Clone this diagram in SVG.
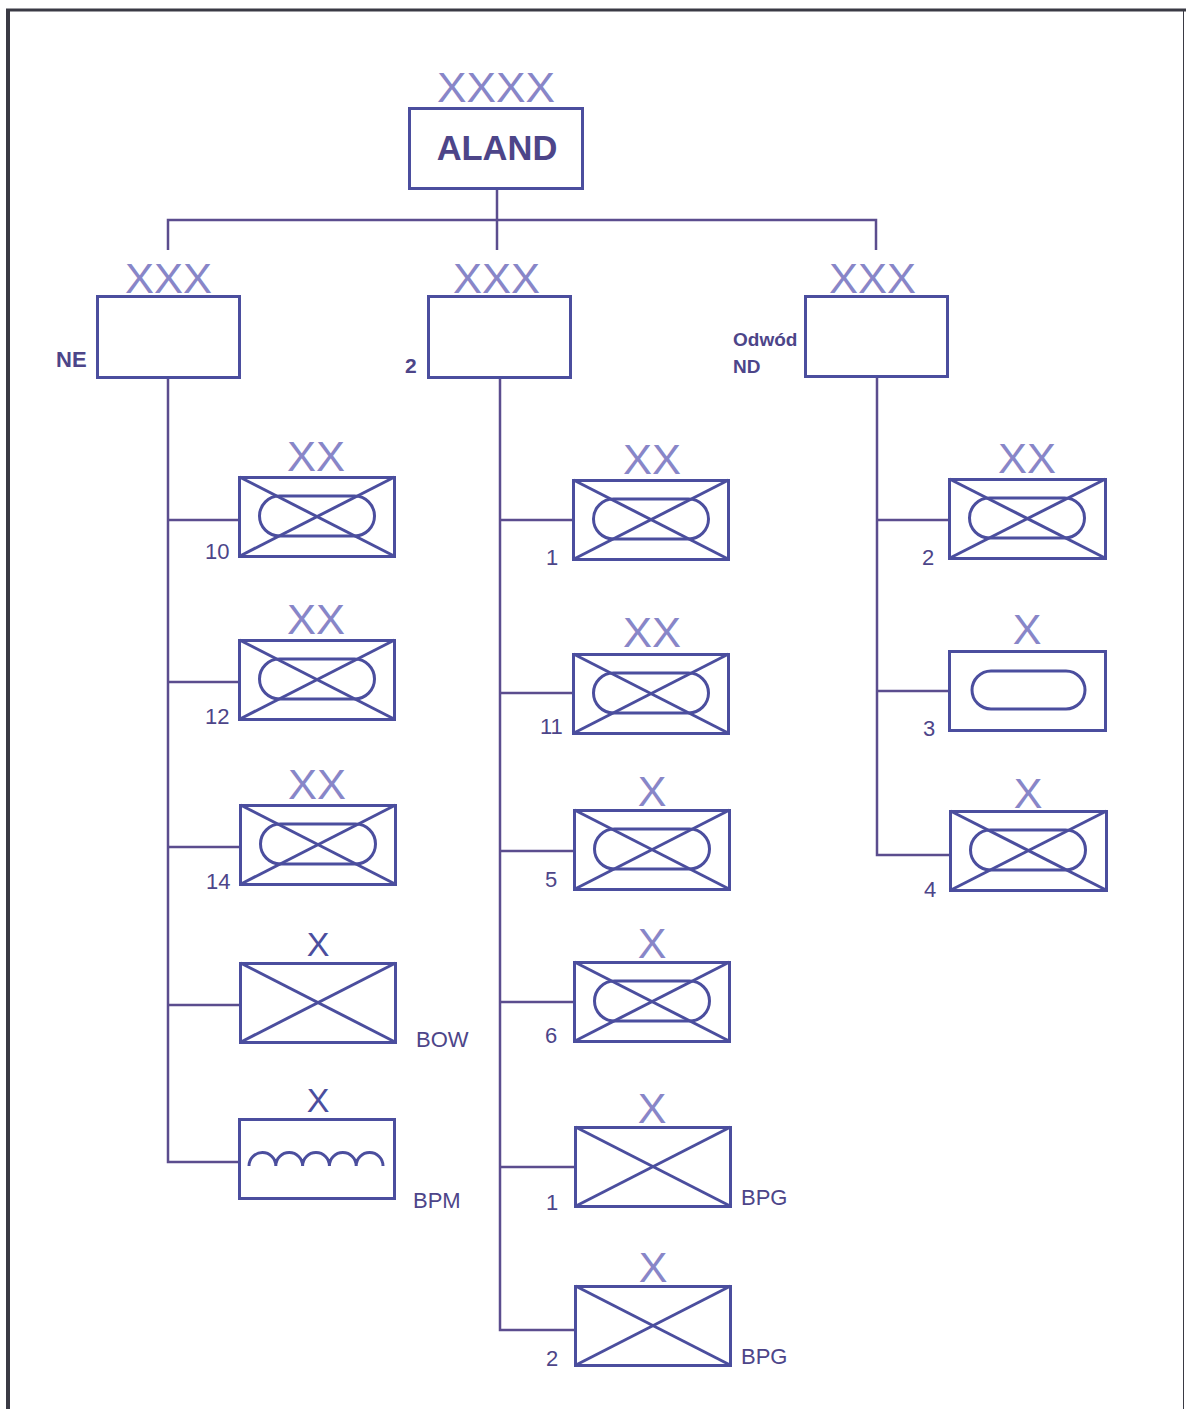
<svg xmlns="http://www.w3.org/2000/svg" width="1186" height="1409" viewBox="0 0 1186 1409">
<defs>
<style>
.frame{stroke:#3a3a44;fill:none}
.box{fill:#fff;stroke:#4b4e9e;stroke-width:3}
.sym{fill:none;stroke:#4b4e9e;stroke-width:3}
.con{fill:none;stroke:#5b4d8e;stroke-width:2.5}
.ech{font-family:"Liberation Sans",Arial,sans-serif;font-size:43px;fill:#8886c8;text-anchor:middle}
.echd{font-family:"Liberation Sans",Arial,sans-serif;font-size:34px;fill:#4b4e9e;text-anchor:middle}
.lbl{font-family:"Liberation Sans",Arial,sans-serif;font-size:22px;fill:#4d4589}
.bold{font-family:"Liberation Sans",Arial,sans-serif;font-weight:bold;fill:#4d4589}
</style>
<g id="oval">
<rect x="20" y="21" width="115" height="40" rx="20" class="sym"/>
</g>
<g id="cross">
<line x1="0" y1="0" x2="156" y2="80" class="sym"/>
<line x1="0" y1="80" x2="156" y2="0" class="sym"/>
</g>
</defs>
<rect width="1186" height="1409" fill="#fff"/>
<g id="frame">
<line x1="8" y1="10" x2="8" y2="1409" class="frame" stroke-width="4"/>
<line x1="6" y1="10" x2="1186" y2="10" class="frame" stroke-width="3"/>
<line x1="1183.5" y1="10" x2="1183.5" y2="1409" class="frame" stroke-width="1" stroke="#777"/>
</g>
<g id="connectors">
<polyline points="497,189 497,250" class="con"/>
<polyline points="168,250 168,220 876,220 876,250" class="con"/>
<polyline points="168,378 168,1162 239,1162" class="con"/>
<line x1="168" y1="520" x2="239" y2="520" class="con"/>
<line x1="168" y1="682" x2="239" y2="682" class="con"/>
<line x1="168" y1="847" x2="239" y2="847" class="con"/>
<line x1="168" y1="1005" x2="239" y2="1005" class="con"/>
<polyline points="500,378 500,1330 575,1330" class="con"/>
<line x1="500" y1="520" x2="573" y2="520" class="con"/>
<line x1="500" y1="693" x2="573" y2="693" class="con"/>
<line x1="500" y1="851" x2="574" y2="851" class="con"/>
<line x1="500" y1="1002" x2="574" y2="1002" class="con"/>
<line x1="500" y1="1167" x2="575" y2="1167" class="con"/>
<polyline points="877,377 877,855 950,855" class="con"/>
<line x1="877" y1="520" x2="949" y2="520" class="con"/>
<line x1="877" y1="691" x2="949" y2="691" class="con"/>
</g>
<g id="aland">
<text x="496" y="102" class="ech" textLength="118" lengthAdjust="spacingAndGlyphs">XXXX</text>
<rect x="409.5" y="108.5" width="173" height="80" class="box"/>
<text x="497" y="160" class="bold" font-size="34.5" text-anchor="middle">ALAND</text>
</g>
<g id="ne">
<text x="168.5" y="293" class="ech" textLength="87" lengthAdjust="spacingAndGlyphs">XXX</text>
<rect x="97.5" y="296.5" width="142" height="81" class="box"/>
<text x="56" y="367" class="bold" font-size="22">NE</text>
</g>
<g id="n2">
<text x="496.5" y="293" class="ech" textLength="87" lengthAdjust="spacingAndGlyphs">XXX</text>
<rect x="428.5" y="296.5" width="142" height="81" class="box"/>
<text x="405" y="373" class="bold" font-size="21">2</text>
</g>
<g id="nd">
<text x="872.5" y="293" class="ech" textLength="87" lengthAdjust="spacingAndGlyphs">XXX</text>
<rect x="805.5" y="296.5" width="142" height="80" class="box"/>
<text x="733" y="346" class="bold" font-size="19">Odwód</text>
<text x="733" y="373" class="bold" font-size="19">ND</text>
</g>
<g id="l10">
<text x="316" y="471" class="ech" textLength="58" lengthAdjust="spacingAndGlyphs">XX</text>
<rect x="239.5" y="477.5" width="155" height="79" class="box"/>
<use href="#cross" transform="translate(239.5,477) scale(0.994,0.99)"/>
<use href="#oval" transform="translate(239.5,475)"/>
<text x="205" y="559" class="lbl">10</text>
</g>
<g id="l12">
<text x="316" y="634" class="ech" textLength="58" lengthAdjust="spacingAndGlyphs">XX</text>
<rect x="239.5" y="640.5" width="155" height="79" class="box"/>
<use href="#cross" transform="translate(239.5,640) scale(0.994,0.99)"/>
<use href="#oval" transform="translate(239.5,638)"/>
<text x="205" y="724" class="lbl">12</text>
</g>
<g id="l14">
<text x="317" y="799" class="ech" textLength="58" lengthAdjust="spacingAndGlyphs">XX</text>
<rect x="240.5" y="805.5" width="155" height="79" class="box"/>
<use href="#cross" transform="translate(240.5,805) scale(0.994,0.99)"/>
<use href="#oval" transform="translate(240.5,803)"/>
<text x="206" y="889" class="lbl">14</text>
</g>
<g id="bow">
<text x="318" y="956" class="echd">X</text>
<rect x="240.5" y="963.5" width="155" height="79" class="box"/>
<use href="#cross" transform="translate(240.5,963) scale(0.994,0.99)"/>
<text x="416" y="1047" class="lbl">BOW</text>
</g>
<g id="bpm">
<text x="318" y="1112" class="echd">X</text>
<rect x="239.5" y="1119.5" width="155" height="79" class="box"/>
<path d="M249,1166 a13.4,13.4 0 0 1 26.8,0 a13.4,13.4 0 0 1 26.8,0 a13.4,13.4 0 0 1 26.8,0 a13.4,13.4 0 0 1 26.8,0 a13.4,13.4 0 0 1 26.8,0" class="sym"/>
<text x="413" y="1208" class="lbl">BPM</text>
</g>
<g id="m1">
<text x="652" y="474" class="ech" textLength="58" lengthAdjust="spacingAndGlyphs">XX</text>
<rect x="573.5" y="480.5" width="155" height="79" class="box"/>
<use href="#cross" transform="translate(573.5,480) scale(0.994,0.99)"/>
<use href="#oval" transform="translate(573.5,478)"/>
<text x="546" y="565" class="lbl">1</text>
</g>
<g id="m11">
<text x="652" y="647" class="ech" textLength="58" lengthAdjust="spacingAndGlyphs">XX</text>
<rect x="573.5" y="654.5" width="155" height="79" class="box"/>
<use href="#cross" transform="translate(573.5,654) scale(0.994,0.99)"/>
<use href="#oval" transform="translate(573.5,652)"/>
<text x="540" y="734" class="lbl">11</text>
</g>
<g id="m5">
<text x="652" y="806" class="ech">X</text>
<rect x="574.5" y="810.5" width="155" height="79" class="box"/>
<use href="#cross" transform="translate(574.5,810) scale(0.994,0.99)"/>
<use href="#oval" transform="translate(574.5,808)"/>
<text x="545" y="887" class="lbl">5</text>
</g>
<g id="m6">
<text x="652" y="958" class="ech">X</text>
<rect x="574.5" y="962.5" width="155" height="79" class="box"/>
<use href="#cross" transform="translate(574.5,962) scale(0.994,0.99)"/>
<use href="#oval" transform="translate(574.5,960)"/>
<text x="545" y="1043" class="lbl">6</text>
</g>
<g id="bpg1">
<text x="652" y="1123" class="ech">X</text>
<rect x="575.5" y="1127.5" width="155" height="79" class="box"/>
<use href="#cross" transform="translate(575.5,1127) scale(0.994,0.99)"/>
<text x="546" y="1210" class="lbl">1</text>
<text x="741" y="1205" class="lbl">BPG</text>
</g>
<g id="bpg2">
<text x="653" y="1282" class="ech">X</text>
<rect x="575.5" y="1286.5" width="155" height="79" class="box"/>
<use href="#cross" transform="translate(575.5,1286) scale(0.994,0.99)"/>
<text x="546" y="1366" class="lbl">2</text>
<text x="741" y="1364" class="lbl">BPG</text>
</g>
<g id="r2">
<text x="1027" y="473" class="ech" textLength="58" lengthAdjust="spacingAndGlyphs">XX</text>
<rect x="949.5" y="479.5" width="156" height="79" class="box"/>
<use href="#cross" transform="translate(949.5,479) scale(1,0.99)"/>
<use href="#oval" transform="translate(949.5,477)"/>
<text x="922" y="565" class="lbl">2</text>
</g>
<g id="r3">
<text x="1027" y="644" class="ech">X</text>
<rect x="949.5" y="651.5" width="156" height="79" class="box"/>
<rect x="972" y="671" width="113" height="38" rx="19" class="sym"/>
<text x="923" y="736" class="lbl">3</text>
</g>
<g id="r4">
<text x="1028" y="808" class="ech">X</text>
<rect x="950.5" y="811.5" width="156" height="79" class="box"/>
<use href="#cross" transform="translate(950.5,811) scale(1,0.99)"/>
<use href="#oval" transform="translate(950.5,809)"/>
<text x="924" y="897" class="lbl">4</text>
</g>
</svg>
